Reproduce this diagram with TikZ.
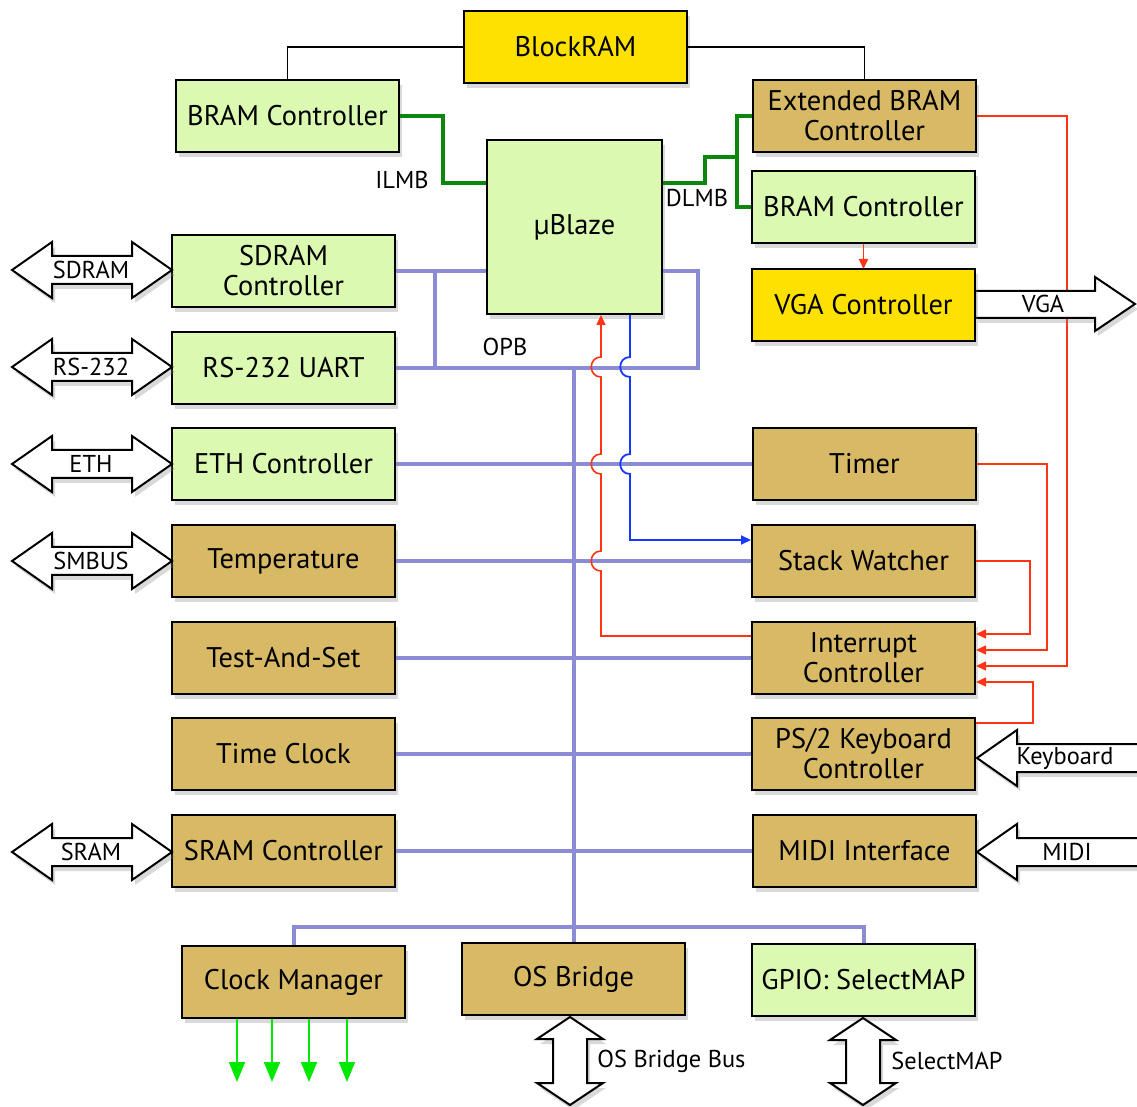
\documentclass[tikz,border=0pt]{standalone}
\usepackage{fontspec}
\setmainfont{PT Sans}
\usetikzlibrary{shadows,arrows.meta}
\definecolor{grnc}{HTML}{DBF9B1}
\definecolor{tanc}{HTML}{D8B966}
\definecolor{ylwc}{HTML}{FFE100}
\definecolor{opbc}{HTML}{8B8BD6}
\definecolor{lmbc}{HTML}{0D860D}
\definecolor{redc}{HTML}{FF3414}
\definecolor{bluc}{HTML}{1638FF}
\definecolor{clkc}{HTML}{00E800}
\newcommand\HDArrow[3]{%
  \path[bigarrow] (#1,#3) -- ({#1+40},{#3-28}) -- ({#1+40},{#3-14}) -- ({#2-40},{#3-14}) -- ({#2-40},{#3-28}) -- (#2,#3) -- ({#2-40},{#3+28}) -- ({#2-40},{#3+14}) -- ({#1+40},{#3+14}) -- ({#1+40},{#3+28}) -- cycle;}
\newcommand\VDArrow[3]{%
  \path[bigarrow] (#1,#2) -- ({#1+33},{#2+22}) -- ({#1+17},{#2+22}) -- ({#1+17},{#3-22}) -- ({#1+33},{#3-22}) -- (#1,#3) -- ({#1-33},{#3-22}) -- ({#1-17},{#3-22}) -- ({#1-17},{#2+22}) -- ({#1-33},{#2+22}) -- cycle;}
\newcommand\LArrow[2]{%
  \path[bigarrow] (#1,#2) -- ({#1+40},{#2-28}) -- ({#1+40},{#2-14}) -- (1150,{#2-14}) -- (1150,{#2+14}) -- ({#1+40},{#2+14}) -- ({#1+40},{#2+28}) -- cycle;}
\begin{document}
\begin{tikzpicture}[x=0.5pt,y=-0.5pt,
  box/.style={draw=black, line width=1pt, inner sep=0pt, align=center,
    minimum width=111.5pt, minimum height=36pt,
    font=\fontsize{14.2}{15}\selectfont,
    drop shadow={shadow xshift=1.5pt, shadow yshift=-2.5pt, opacity=0.3}},
  gbox/.style={box, fill=grnc},
  tbox/.style={box, fill=tanc},
  ybox/.style={box, fill=ylwc},
  lbl/.style={font=\fontsize{12.2}{13}\selectfont, inner sep=0pt},
  bigarrow/.style={draw=black, line width=1pt, fill=white,
    drop shadow={shadow xshift=1.5pt, shadow yshift=-2.5pt, opacity=0.3}},
  opb/.style={opbc, line width=2pt},
  lmb/.style={lmbc, line width=2pt},
  irq/.style={redc, line width=0.8pt, -{Triangle[length=5pt,width=4.5pt]}},
  stk/.style={bluc, line width=0.9pt, -{Triangle[length=5pt,width=4.5pt]}},
  clk/.style={clkc, line width=1pt, -{Triangle[length=10pt,width=8pt]}},
  bram/.style={black, line width=0.6pt}
]
\useasboundingbox (0,0) rectangle (1137,1107);

\path
  (575.5,47)  node[ybox] (blockram) {BlockRAM}
  (287.5,116) node[gbox] (bcl) {BRAM Controller}
  (864.5,116) node[tbox] (ext) {Extended BRAM\\Controller}
  (574.5,227) node[gbox, minimum width=87.5pt, minimum height=87pt] (ub) {µBlaze}
  (863.5,207) node[gbox] (bcr) {BRAM Controller}
  (283.5,271) node[gbox] (sdram) {SDRAM\\Controller}
  (283.5,368) node[gbox] (uart) {RS-232 UART}
  (283.5,464) node[gbox] (eth) {ETH Controller}
  (283.5,561) node[tbox] (temp) {Temperature}
  (283.5,658) node[tbox] (tas) {Test-And-Set}
  (283.5,754) node[tbox] (tclk) {Time Clock}
  (283.5,851) node[tbox] (sram) {SRAM Controller}
  (864.5,464) node[tbox] (timer) {Timer}
  (863.5,561) node[tbox] (sw) {Stack Watcher}
  (863.5,658) node[tbox] (intc) {Interrupt\\Controller}
  (863.5,754) node[tbox] (ps2) {PS/2 Keyboard\\Controller}
  (864.5,851) node[tbox] (midi) {MIDI Interface}
  (293.5,982) node[tbox] (clkm) {Clock Manager}
  (573.5,979) node[tbox] (osb) {OS Bridge}
  (863.5,980) node[gbox] (gpio) {GPIO: SelectMAP};

% ---- BlockRAM links
\draw[bram] (blockram.west) -| (bcl.north);
\draw[bram] (blockram.east) -| (ext.north);

% ---- LMB
\draw[lmb] (bcl.east) -- (443,116) -- (443,183) -- (ub.west |- 0,183);
\draw[lmb] (ub.east |- 0,183) -- (705,183) -- (705,157) -- (737,157);
\draw[lmb] (ext.west) -- (737,116) -- (737,207) -- (bcr.west);
\node[lbl] (ilmb) at (402,180) {ILMB};
\node[lbl] (dlmb) at (697,198) {DLMB};

% ---- OPB
\draw[opb] (sdram.east) -- (ub.west |- sdram.east);
\draw[opb] (435,271) -- (435,368);
\draw[opb] (uart.east) -- (698,368) -- (698,271) -- (ub.east |- 0,271);
\draw[opb] (573.5,368) -- (osb.north);
\draw[opb] (eth.east) -- (timer.west);
\draw[opb] (temp.east) -- (sw.west);
\draw[opb] (tas.east) -- (intc.west);
\draw[opb] (tclk.east) -- (ps2.west);
\draw[opb] (sram.east) -- (midi.west);
\draw[opb] (clkm.north) -- (clkm.north |- 0,927) -- (gpio.north |- 0,927) -- (gpio.north);
\node[lbl] (opblbl) at (505,347) {OPB};

% ---- interrupt to uBlaze
\draw[irq] (intc.west |- 0,636) -- (601,636) -- (601,571)
  .. controls (588,571) and (588,551) .. (601,551) -- (601,474)
  .. controls (588,474) and (588,454) .. (601,454) -- (601,377)
  .. controls (588,377) and (588,357) .. (601,357) -- (ub.south -| 601,0);
% ---- stack watcher
\draw[stk] (ub.south -| 630,0) -- (630,357)
  .. controls (617,357) and (617,377) .. (630,377) -- (630,454)
  .. controls (617,454) and (617,474) .. (630,474) -- (630,540) -- (sw.west |- 0,540);

% ---- right red interrupt lines
\draw[irq] (ext.east) -- (1067,116) -- (1067,666) -- (intc.east |- 0,666);
\draw[irq] (timer.east) -- (1047,464) -- (1047,650) -- (intc.east |- 0,650);
\draw[irq] (sw.east) -- (1030,561) -- (1030,634) -- (intc.east |- 0,634);
\draw[irq] (ps2.east |- 0,723) -- (1033,723) -- (1033,682) -- (intc.east |- 0,682);
\draw[irq] (bcr.south) -- (863.5,269);

% ---- clock outputs
\foreach \cx/\nm in {237/a,272/b,309/c,347/d} {
  \coordinate (clkend\nm) at (\cx,1082);
  \draw[clk] (clkm.south -| clkend\nm) -- (clkend\nm);
}

% ---- big arrows
\HDArrow{12}{172}{270}
\HDArrow{12}{172}{367}
\HDArrow{12}{172}{464}
\HDArrow{12}{172}{561}
\HDArrow{12}{172}{852}
\node[lbl] (asdram) at (91,270) {SDRAM};
\node[lbl] (ars) at (91,367) {RS-232};
\node[lbl] (aeth) at (91,464) {ETH};
\node[lbl] (asmb) at (91,561) {SMBUS};
\node[lbl] (asram) at (91,852) {SRAM};

\path[bigarrow] (975,291) -- (1095,291) -- (1095,277) -- (1135,304) -- (1095,331) -- (1095,318) -- (975,318) -- cycle;
\node[lbl] (avga) at (1043,304) {VGA};

\LArrow{977}{758}
\LArrow{977}{852}
\node[lbl] (akbd) at (1065,758) {Keyboard};
\node[lbl] (amidi) at (1067,852) {MIDI};

\VDArrow{570}{1017}{1105}
\VDArrow{863}{1018}{1105}
\node[lbl, anchor=west] (aosb) at (597,1061) {OS Bridge Bus};
\node[lbl, anchor=west] (asel) at (891,1061) {SelectMAP};

% ---- VGA box on top of arrow
\node[ybox] (vga) at (863.5,305) {VGA Controller};
\end{tikzpicture}
\end{document}
